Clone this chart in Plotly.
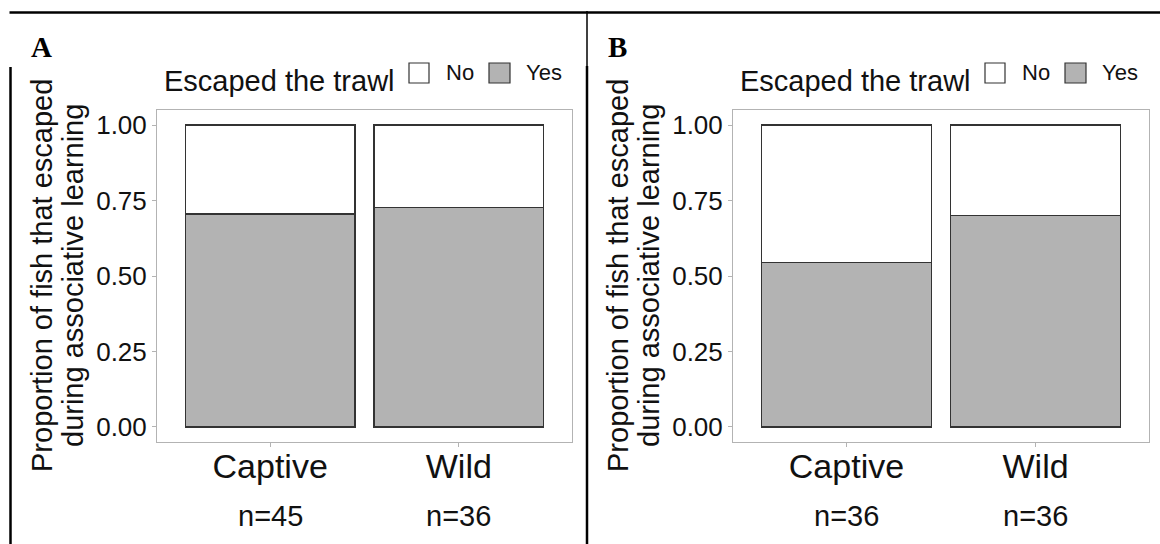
import plotly.graph_objects as go

# Figure size in pixels
W, H = 1160, 544

# ---- data -------------------------------------------------------------
categories = ["Captive", "Wild"]
yes_a = [0.705, 0.727]          # panel A, proportion that escaped
no_a = [0.295, 0.273]
yes_b = [0.545, 0.700]          # panel B
no_b = [0.455, 0.300]
n_a = [45, 36]
n_b = [36, 36]
y_tickvals = [0.0, 0.25, 0.5, 0.75, 1.0]
y_ticktext = ["0.00", "0.25", "0.50", "0.75", "1.00"]
legend_title = "Escaped the trawl"
legend_labels = ["No", "Yes"]
y_title_lines = ["Proportion of fish that escaped", "during associative learning"]

# ---- styling ------------------------------------------------------------
SANS = "Liberation Sans, Arial, sans-serif"
SERIF = "Liberation Serif, Times New Roman, serif"
FILL_YES = "#B3B3B3"
FILL_NO = "#FFFFFF"
EDGE = "#333333"
FRAME_GREY = "#B3B3B3"
TXT = "#111111"


def px(x):
    return x / W


def py(y):
    return 1 - y / H


PLOT_TOP, PLOT_BOTTOM = 110, 442
panels = [
    dict(label="A", yes=yes_a, no=no_a, n=n_a, left=157, right=572, xa="x", ya="y"),
    dict(label="B", yes=yes_b, no=no_b, n=n_b, left=733, right=1149, xa="x2", ya="y2"),
]

fig = go.Figure()
annotations = []
shapes = []

for i, p in enumerate(panels):
    for vals, fill, name in ((p["yes"], FILL_YES, "Yes"), (p["no"], FILL_NO, "No")):
        fig.add_trace(go.Bar(
            x=categories, y=vals, name=name, width=0.9,
            marker=dict(color=fill, line=dict(color=EDGE, width=1.3)),
            xaxis=p["xa"], yaxis=p["ya"], showlegend=False, hoverinfo="skip",
        ))

    sfx = "" if i == 0 else str(i + 1)
    axis_common = dict(
        showline=True, mirror=True, linecolor=FRAME_GREY, linewidth=1,
        ticks="outside", ticklen=4, tickcolor=FRAME_GREY, tickwidth=1,
        showgrid=False, zeroline=False, fixedrange=True,
    )
    fig.update_layout(**{
        "xaxis" + sfx: dict(
            domain=[px(p["left"]), px(p["right"])], range=[-0.6, 1.6],
            type="category", anchor="y" + sfx, ticklabelstandoff=-10,
            tickfont=dict(family=SANS, size=34, color=TXT), **axis_common,
        ),
        "yaxis" + sfx: dict(
            domain=[py(PLOT_BOTTOM), py(PLOT_TOP)], range=[-0.05, 1.05],
            anchor="x" + sfx, tickvals=y_tickvals, ticktext=y_ticktext,
            tickfont=dict(family=SANS, size=26, color=TXT), **axis_common,
        ),
    })

    off = p["left"] - 157

    # sample sizes under the category labels
    for cat, n in zip(categories, p["n"]):
        annotations.append(dict(
            x=cat, xref=p["xa"], y=py(516), yref="paper", text=f"n={n}",
            showarrow=False, xanchor="center", yanchor="middle",
            font=dict(family=SANS, size=29, color=TXT),
        ))

    # two-line y axis title
    for j, line in enumerate(y_title_lines):
        annotations.append(dict(
            x=px(42 + off + 31 * j), y=py(276), xref="paper", yref="paper",
            text=line, textangle=-90, showarrow=False,
            xanchor="center", yanchor="middle",
            font=dict(family=SANS, size=29, color=TXT),
        ))

    # panel letter
    annotations.append(dict(
        x=px(41 + off), y=py(47), xref="paper", yref="paper",
        text=f"<b>{p['label']}</b>", showarrow=False,
        xanchor="center", yanchor="middle",
        font=dict(family=SERIF, size=29, color="#000000"),
    ))

    # legend: title, keys and labels
    annotations.append(dict(
        x=px(162 + off), y=py(81), xref="paper", yref="paper",
        text=legend_title, showarrow=False, xanchor="left", yanchor="middle",
        font=dict(family=SANS, size=29, color=TXT),
    ))
    for (k0, k1, t0), fill, lab in zip(((409, 429, 444), (489, 510, 524)),
                                       (FILL_NO, FILL_YES), legend_labels):
        shapes.append(dict(
            type="rect", xref="paper", yref="paper",
            x0=px(k0 + off), x1=px(k1 + off), y0=py(83), y1=py(63),
            fillcolor=fill, line=dict(color=EDGE, width=1.2),
        ))
        annotations.append(dict(
            x=px(t0 + off), y=py(73), xref="paper", yref="paper",
            text=lab, showarrow=False, xanchor="left", yanchor="middle",
            font=dict(family=SANS, size=22, color=TXT),
        ))

# outer frame lines of the composite figure
frame = [
    dict(x0=9.5, x1=1160, y0=12.5, y1=12.5, w=2.5),
    dict(x0=10.5, x1=10.5, y0=67, y1=544, w=2.5),
    dict(x0=587, x1=587, y0=11, y1=66, w=1.5),
    dict(x0=587, x1=587, y0=66, y1=544, w=2.5),
]
for f in frame:
    shapes.append(dict(
        type="line", xref="paper", yref="paper",
        x0=px(f["x0"]), x1=px(f["x1"]), y0=py(f["y0"]), y1=py(f["y1"]),
        line=dict(color="#000000", width=f["w"]),
    ))

fig.update_layout(
    width=W, height=H, barmode="stack",
    margin=dict(l=0, r=0, t=0, b=0),
    paper_bgcolor="white", plot_bgcolor="white",
    annotations=annotations, shapes=shapes, showlegend=False,
)

fig.write_html("out.html", config={"displayModeBar": False})
